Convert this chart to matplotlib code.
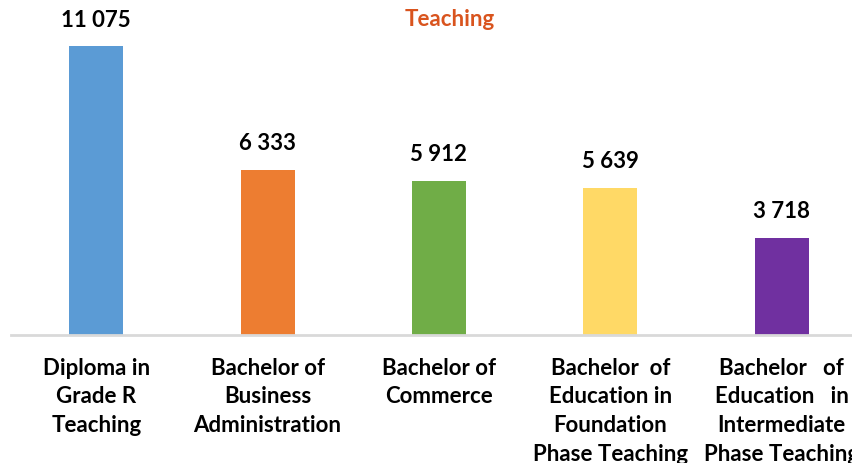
import matplotlib.pyplot as plt

plt.rcParams['font.family'] = ['Lato', 'DejaVu Sans']

programmes = [
    "Diploma in\nGrade R\nTeaching",
    "Bachelor of\nBusiness\nAdministration",
    "Bachelor of\nCommerce",
    "Bachelor  of\nEducation in\nFoundation\nPhase Teaching",
    "Bachelor   of\nEducation   in\nIntermediate\nPhase Teaching",
]
students = [11075, 6333, 5912, 5639, 3718]
bar_colors = ["#5B9BD5", "#ED7D31", "#70AD47", "#FFD966", "#7030A0"]

fig = plt.figure(figsize=(8.52, 4.64), dpi=100)
# axes runs a bit past the right edge, the source chart is cropped there
ax = fig.add_axes([10.6 / 852, (464 - 335.5) / 464, 856.6 / 852, 325.5 / 464])

x = range(len(students))
bars = ax.bar(x, students, width=0.315, color=bar_colors, zorder=2)
for b, v in zip(bars, students):
    ax.text(b.get_x() + b.get_width() / 2, v + 1030, f"{v:,}".replace(",", " "),
            ha="center", va="center", fontsize=16, fontweight="bold", color="#000000")

ax.set_xlim(-0.5, len(students) - 0.5)
ax.set_ylim(0, 12500)
ax.set_yticks([])
for side in ["top", "right", "left"]:
    ax.spines[side].set_visible(False)
ax.spines["bottom"].set_color("#D9D9D9")
ax.spines["bottom"].set_linewidth(2)

ax.set_xticks(list(x))
ax.set_xticklabels(programmes, fontsize=16, fontweight="bold", linespacing=1.45,
                   va="top", ha="center")
ax.tick_params(axis="x", length=0, pad=16)

fig.text(450 / 852, 1 - 19 / 464, "Teaching", ha="center", va="center",
         fontsize=16, fontweight="bold", color="#D9541E")

fig.savefig("out.png", dpi=100)
